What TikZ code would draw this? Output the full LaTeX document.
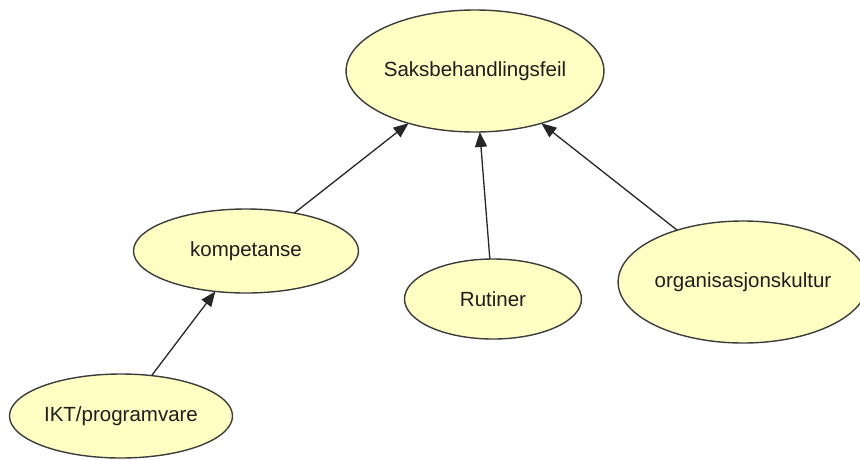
\documentclass[tikz,border=0pt]{standalone}
\usepackage{fontspec}
\setmainfont{Liberation Sans}
\usetikzlibrary{shapes.geometric,arrows.meta}
\definecolor{nodefill}{RGB}{255,255,196}
\definecolor{nodeline}{RGB}{60,60,60}
\definecolor{textcol}{RGB}{30,30,30}
\tikzset{
  cnode/.style={ellipse,draw=nodeline,fill=nodefill,line width=1.4pt,inner sep=0pt,outer sep=0pt,
    text=textcol,font=\fontsize{20.5}{24}\selectfont},
  link/.style={draw=black!85,line width=1.3pt,-{Triangle[length=15pt,width=12pt]}}
}
\begin{document}
\begin{tikzpicture}[x=1pt,y=-1pt]
\useasboundingbox (0,0) rectangle (860,459);
\node[cnode,minimum width=225pt,minimum height=122pt] (S) at (475,71) {Saksbehandlingsfeil};
\node[cnode,minimum width=225pt,minimum height=84pt] (K) at (246,251) {kompetanse};
\node[cnode,minimum width=223pt,minimum height=84pt] (I) at (121,416) {IKT/programvare};
\node[cnode,minimum width=177pt,minimum height=80pt] (R) at (493,299) {Rutiner};
\node[cnode,minimum width=232pt,minimum height=122pt] (O) at (743,282) {organisasjonskultur};
\draw[link] (K) -- (S);
\draw[link] (R) -- (S);
\draw[link] (O) -- (S);
\draw[link] (I) -- (K);
\end{tikzpicture}
\end{document}
